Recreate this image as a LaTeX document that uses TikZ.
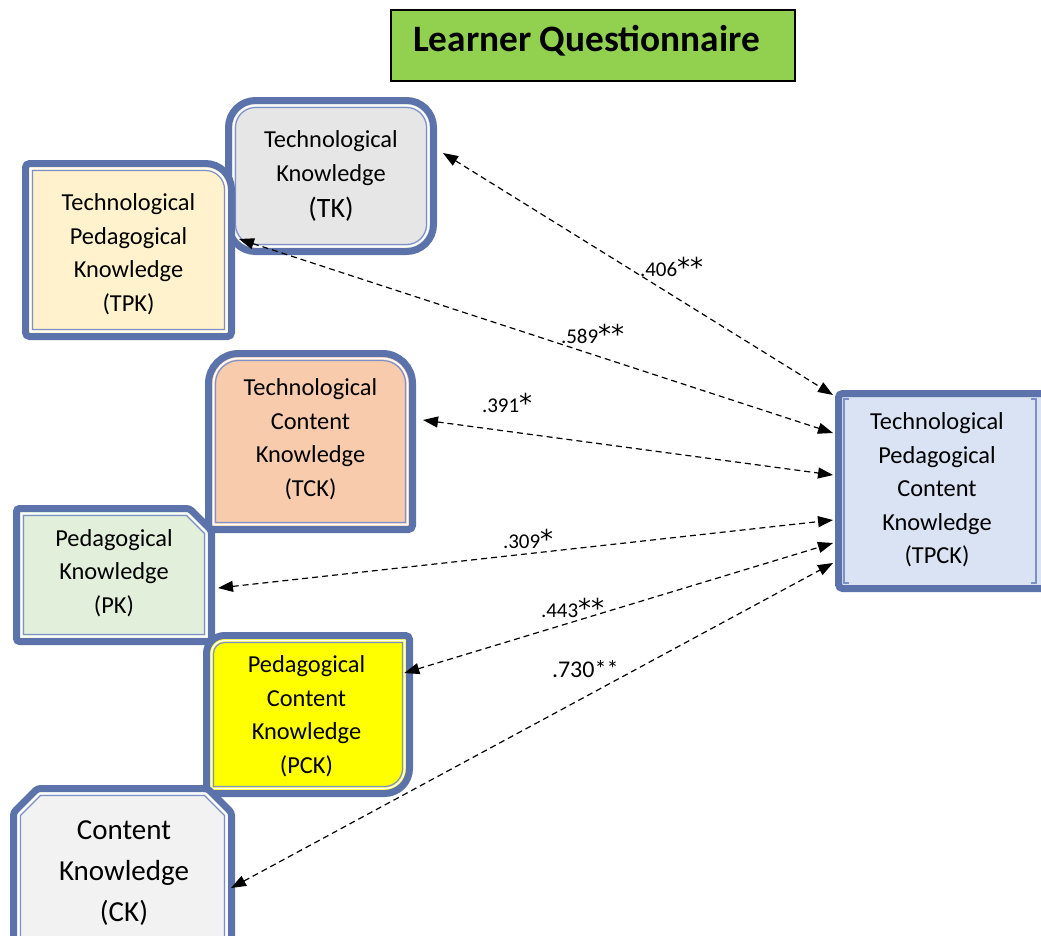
\documentclass[tikz,border=0pt]{standalone}
\usepackage{fontspec}
\setmainfont{Carlito}
\newfontfamily\starfont{DejaVu Sans}
\usetikzlibrary{arrows.meta,calc}
\definecolor{bord}{RGB}{91,114,170}
\definecolor{bordlt}{RGB}{125,145,200}
\definecolor{tkfill}{RGB}{231,230,230}
\definecolor{tpkfill}{RGB}{255,242,204}
\definecolor{tckfill}{RGB}{248,203,173}
\definecolor{pkfill}{RGB}{226,239,218}
\definecolor{pckfill}{RGB}{255,255,0}
\definecolor{ckfill}{RGB}{242,242,242}
\definecolor{tpckfill}{RGB}{218,227,243}
\definecolor{titlefill}{RGB}{146,208,80}
% rectangle with individual corner radii: x1 y1 x2 y2 rTL rTR rBR rBL options
\newcommand\rrect[9]{\path[#9] ({#1+(#5)},{#2}) -- ({#3-(#6)},{#2})
 .. controls ({#3-0.448*(#6)},{#2}) and ({#3},{#2+0.448*(#6)}) .. ({#3},{#2+(#6)})
 -- ({#3},{#4-(#7)})
 .. controls ({#3},{#4-0.448*(#7)}) and ({#3-0.448*(#7)},{#4}) .. ({#3-(#7)},{#4})
 -- ({#1+(#8)},{#4})
 .. controls ({#1+0.448*(#8)},{#4}) and ({#1},{#4-0.448*(#8)}) .. ({#1},{#4-(#8)})
 -- ({#1},{#2+(#5)})
 .. controls ({#1},{#2+0.448*(#5)}) and ({#1+0.448*(#5)},{#2}) .. ({#1+(#5)},{#2}) -- cycle;}
\newcommand\fancyrbox[9]{%
 \rrect{#1}{#2}{#3}{#4}{#5}{#6}{#7}{#8}{fill=#9, draw=bord, line width=7}
 \rrect{#1+5}{#2+5}{#3-5}{#4-5}{max(#5-5,0)}{max(#6-5,0)}{max(#7-5,0)}{max(#8-5,0)}{draw=white, line width=1.6}
 \rrect{#1+7}{#2+7}{#3-7}{#4-7}{max(#5-7,0)}{max(#6-7,0)}{max(#7-7,0)}{max(#8-7,0)}{draw=bordlt, line width=1.2}}
\newcommand\bigstars[1]{{\fontsize{26}{26}\starfont #1}}
\begin{document}
\begin{tikzpicture}[x=1pt,y=-1pt,
  boxtext/.style={align=center, inner sep=0pt, outer sep=0pt, font=\fontsize{24.4}{33.5}\selectfont},
  conn/.style={line width=1.2, dash pattern=on 6pt off 4pt, {Triangle[length=15pt,width=11pt]}-{Triangle[length=15pt,width=11pt]}},
  lab/.style={anchor=base west, inner sep=0pt, outer sep=0pt, font=\fontsize{21}{21}\selectfont},
  titlebox/.style={draw=black, line width=1.5, fill=titlefill, minimum width=404pt, minimum height=71pt, inner sep=0pt, outer sep=0pt}]
\fill[white] (0,0) rectangle (1041,935);
\clip (0,0) rectangle (1041,935);

% title
\node[titlebox] (title) at (593,45.5) {};
\node[anchor=base, inner sep=0pt, font=\fontsize{37.3}{37}\selectfont\bfseries] (titletxt) at (586.5,51) {Learner Questionnaire};

% TK
\fancyrbox{228.5}{100.5}{433.5}{251.5}{27}{27}{27}{27}{tkfill}
\node[boxtext, minimum width=205pt, minimum height=151pt] (tk) at (331,176) {Technological\\Knowledge\\[2.5pt]{\fontsize{28}{33.5}\selectfont (TK)}};

% TPK
\fancyrbox{25.5}{163.5}{231.5}{336.5}{4}{26}{4}{4}{tpkfill}
\node[boxtext, minimum width=206pt, minimum height=165pt] (tpk) at (128.5,254) {Technological\\Pedagogical\\Knowledge\\(TPK)};

% TCK
\fancyrbox{208.5}{353.5}{412.5}{529.5}{30}{30}{4}{4}{tckfill}
\node[boxtext, minimum width=204pt, minimum height=170pt] (tck) at (310.5,439) {Technological\\Content\\Knowledge\\(TCK)};

% PK (snipped top-right corner)
\path[fill=pkfill, draw=bord, line width=7, rounded corners=3] (16.5,508.5) -- (189.5,508.5) -- (211.5,530.5) -- (211.5,641.5) -- (16.5,641.5) -- cycle;
\path[draw=white, line width=1.6] (21.5,513.5) -- (187.4,513.5) -- (206.5,532.6) -- (206.5,636.5) -- (21.5,636.5) -- cycle;
\path[draw=bordlt, line width=1.2] (23.5,515.5) -- (186.6,515.5) -- (204.5,533.4) -- (204.5,634.5) -- (23.5,634.5) -- cycle;
\node[boxtext, minimum width=195pt, minimum height=125pt] (pk) at (114,573) {Pedagogical\\Knowledge\\(PK)};

% PCK
\fancyrbox{206.5}{635.5}{409.5}{793.5}{18}{4}{25}{1}{pckfill}
\node[boxtext, minimum width=205.5pt, minimum height=150pt] (pck) at (306.5,716) {Pedagogical\\Content\\Knowledge\\(PCK)};

% CK (snipped top corners)
\path[fill=ckfill, draw=bord, line width=7, rounded corners=3] (13.5,812.5) -- (37.5,788.5) -- (207.5,788.5) -- (231.5,812.5) -- (231.5,960) -- (13.5,960) -- cycle;
\path[draw=white, line width=1.6] (18.5,814.6) -- (39.6,793.5) -- (205.4,793.5) -- (226.5,814.6) -- (226.5,955) -- (18.5,955) -- cycle;
\path[draw=bordlt, line width=1.2] (20.5,815.4) -- (40.4,795.5) -- (204.6,795.5) -- (224.5,815.4) -- (224.5,953) -- (20.5,953) -- cycle;
\node[boxtext, font=\fontsize{29}{41}\selectfont, minimum width=217pt, minimum height=160pt] (ck) at (124,873) {Content\\Knowledge\\(CK)};

% TPCK
\rrect{838.5}{393.5}{1050}{588.5}{4}{4}{4}{4}{fill=tpckfill, draw=bord, line width=7}
\draw[bordlt, line width=1.2] (849,399) -- (844,399) -- (844,583) -- (849,583);
\draw[bordlt, line width=1.2] (1031,399) -- (1036,399) -- (1036,583) -- (1031,583);
\node[boxtext, minimum width=197pt, minimum height=190pt] (tpck) at (937,490) {Technological\\Pedagogical\\Content\\Knowledge\\(TPCK)};

% connectors
\draw[conn] ($(tk.east)+(9.5,-23)$) -- ($(tpck.west)+(-5.5,-95)$);
\draw[conn] ($(tpk.east)+(7.5,-15)$) -- ($(tpck.west)+(-5.5,-57)$);
\draw[conn] ($(tck.east)+(10.5,-19)$) -- ($(tpck.west)+(-5.5,-15)$);
\draw[conn] ($(pk.east)+(6.5,15)$) -- ($(tpck.west)+(-5.5,30)$);
\draw[conn] ($(pck.east)+(-5,-43)$) -- ($(tpck.west)+(-5.5,53)$);
\draw[conn] ($(ck.east)+(-1.5,15)$) -- ($(tpck.west)+(-5.5,73)$);

% labels
\node[lab] (l406) at (640,276) {.406\bigstars{**}};
\node[lab] (l589) at (561,343) {.589\bigstars{**}};
\node[lab] (l391) at (482,412) {.391\bigstars{*}};
\node[lab] (l309) at (503,548) {.309\bigstars{*}};
\node[lab] (l443) at (541,617) {.443\bigstars{**}};
\node[lab, font=\fontsize{24}{24}\selectfont] (l730) at (552,677) {.730**};
\end{tikzpicture}
\end{document}
